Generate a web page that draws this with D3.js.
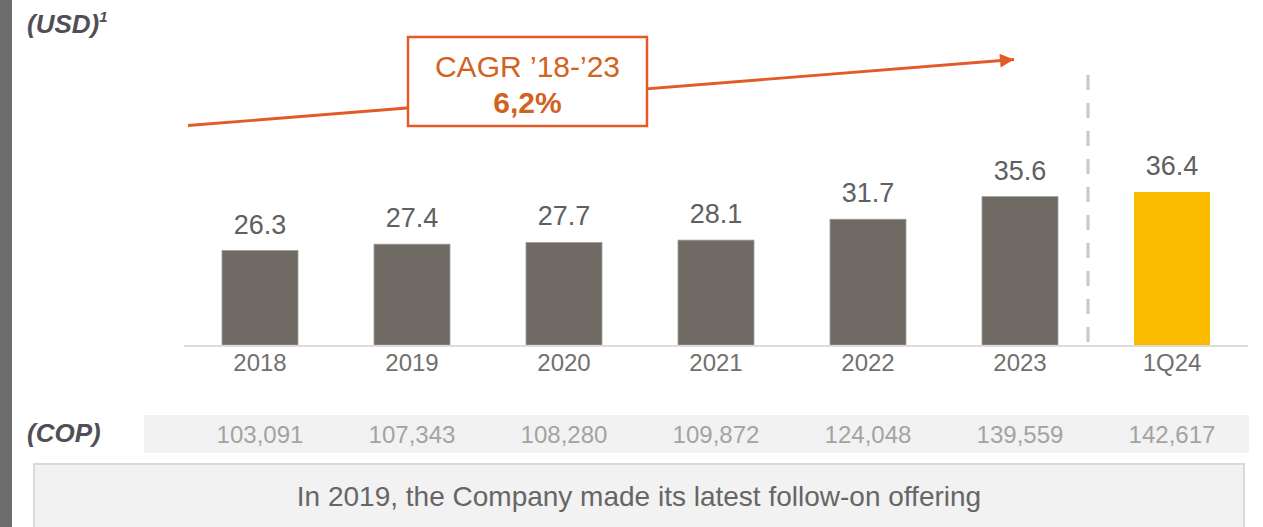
<!DOCTYPE html>
<html>
<head>
<meta charset="utf-8">
<script src="https://cdn.jsdelivr.net/npm/d3@7"></script>
<style>
  html, body { margin: 0; padding: 0; background: #fff; }
  svg { display: block; font-family: "Liberation Sans", Arial, sans-serif; }
</style>
</head>
<body>
<svg id="chart" width="1263" height="527"></svg>
<script>
// --- data ---
const categories = ["2018", "2019", "2020", "2021", "2022", "2023", "1Q24"];
const usdValues = [26.3, 27.4, 27.7, 28.1, 31.7, 35.6, 36.4];
const copValues = ["103,091", "107,343", "108,280", "109,872", "124,048", "139,559", "142,617"];
const cagrLabel = "CAGR \u201918-\u201923";
const cagrValue = "6,2%";
const footNote = "In 2019, the Company made its latest follow-on offering";

// --- setup ---
const svg = d3.select("#chart");
const baseY = 345;

const x = d3.scaleBand()
    .domain(categories)
    .range([184, 1248])
    .paddingInner(0.5)
    .paddingOuter(0.25);

const y = d3.scaleLinear()
    .domain([10, d3.max(usdValues)])
    .range([baseY, 192]);

const data = categories.map((c, i) => ({ cat: c, usd: usdValues[i], cop: copValues[i] }));

// left grey strip
svg.append("rect").attr("x", 0).attr("y", 0).attr("width", 12).attr("height", 527).attr("fill", "#6d6d6d");

// unit title
const usd = svg.append("text")
    .attr("x", 27).attr("y", 33)
    .attr("font-size", 26).attr("font-weight", "bold").attr("font-style", "italic")
    .attr("fill", "#4f4f55")
    .text("(USD)");
usd.append("tspan").attr("font-size", 15).attr("dy", -11).text("1");

// CAGR arrow
const ax1 = x(categories[0]) + x.bandwidth() / 2 - 72;
const ax2 = x("2023") + x.bandwidth() / 2 - 6;
svg.append("defs").append("marker")
    .attr("id", "arrowHead")
    .attr("viewBox", "0 0 10 10")
    .attr("refX", 10).attr("refY", 5)
    .attr("markerWidth", 5.5).attr("markerHeight", 5)
    .attr("orient", "auto")
    .attr("markerUnits", "strokeWidth")
    .append("path").attr("d", "M0,0 L10,5 L0,10 Z").attr("fill", "#e35a26");

svg.append("line")
    .attr("x1", ax1).attr("y1", 125.5)
    .attr("x2", ax2).attr("y2", 59.5)
    .attr("stroke", "#e35a26").attr("stroke-width", 2.8)
    .attr("marker-end", "url(#arrowHead)");

// CAGR box
svg.append("rect")
    .attr("x", 408).attr("y", 37)
    .attr("width", 239).attr("height", 89)
    .attr("fill", "#fff").attr("stroke", "#e35a26").attr("stroke-width", 2.5);
svg.append("text")
    .attr("x", 527.5).attr("y", 77)
    .attr("text-anchor", "middle").attr("font-size", 30)
    .attr("fill", "#d2621f")
    .text(cagrLabel);
svg.append("text")
    .attr("x", 527.5).attr("y", 113)
    .attr("text-anchor", "middle").attr("font-size", 30).attr("font-weight", "bold")
    .attr("fill", "#d2621f")
    .text(cagrValue);

// dashed separator
const sepX = x("2023") + x.bandwidth() + 30;
svg.append("line")
    .attr("x1", sepX).attr("x2", sepX)
    .attr("y1", 75).attr("y2", baseY - 2)
    .attr("stroke", "#c8c8c8").attr("stroke-width", 3)
    .attr("stroke-dasharray", "15,13");

// bars
svg.selectAll("rect.bar")
    .data(data)
    .enter()
    .append("rect")
    .attr("class", "bar")
    .attr("x", d => x(d.cat))
    .attr("y", d => y(d.usd))
    .attr("width", x.bandwidth())
    .attr("height", d => baseY - y(d.usd))
    .attr("fill", d => d.cat === "1Q24" ? "#fbbc00" : "#6f6a64")
    .attr("stroke", d => d.cat === "1Q24" ? "none" : "#a29d97")
    .attr("stroke-width", 0.8);

// value labels
svg.selectAll("text.val")
    .data(data)
    .enter()
    .append("text")
    .attr("class", "val")
    .attr("x", d => x(d.cat) + x.bandwidth() / 2)
    .attr("y", d => y(d.usd) - 17)
    .attr("text-anchor", "middle")
    .attr("font-size", 27)
    .attr("fill", "#606060")
    .text(d => d.usd.toFixed(1));

// baseline
svg.append("line")
    .attr("x1", x.range()[0]).attr("x2", x.range()[1])
    .attr("y1", baseY + 1).attr("y2", baseY + 1)
    .attr("stroke", "#dcdcdc").attr("stroke-width", 2);

// category axis
const xAxis = svg.append("g")
    .attr("transform", `translate(0,${baseY + 1})`)
    .call(d3.axisBottom(x).tickSize(0).tickPadding(8));
xAxis.select(".domain").remove();
xAxis.selectAll("text")
    .attr("font-family", "Liberation Sans, Arial, sans-serif")
    .attr("font-size", 24)
    .attr("fill", "#707070")
    .attr("dy", "0.71em");

// COP row
svg.append("rect")
    .attr("x", 144).attr("y", 415)
    .attr("width", 1105).attr("height", 38)
    .attr("fill", "#f2f2f2");
svg.append("text")
    .attr("x", 27).attr("y", 442)
    .attr("font-size", 26).attr("font-weight", "bold").attr("font-style", "italic")
    .attr("fill", "#4f4f55")
    .text("(COP)");
svg.selectAll("text.cop")
    .data(data)
    .enter()
    .append("text")
    .attr("class", "cop")
    .attr("x", d => x(d.cat) + x.bandwidth() / 2)
    .attr("y", 443)
    .attr("text-anchor", "middle")
    .attr("font-size", 24)
    .attr("fill", "#a3a3a3")
    .text(d => d.cop);

// footnote box
svg.append("rect")
    .attr("x", 34).attr("y", 464)
    .attr("width", 1210).attr("height", 80)
    .attr("fill", "#f2f2f2").attr("stroke", "#d9d9d9").attr("stroke-width", 2);
svg.append("text")
    .attr("x", 639).attr("y", 506)
    .attr("text-anchor", "middle")
    .attr("font-size", 28)
    .attr("fill", "#666")
    .text(footNote);
</script>
</body>
</html>
